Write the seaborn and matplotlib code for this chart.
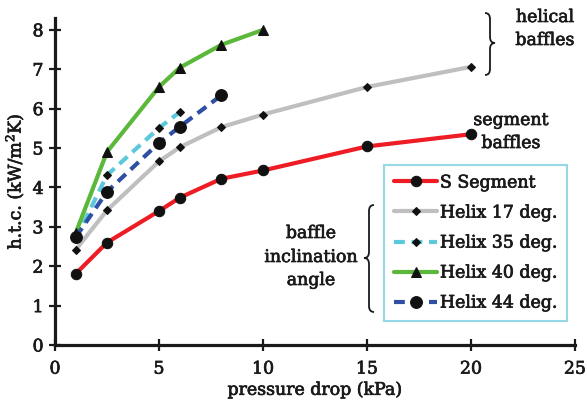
"""Heat transfer coefficient vs pressure drop for segment and helical baffles."""

import matplotlib

matplotlib.use("Agg")
import matplotlib.patheffects as pe
import matplotlib.pyplot as plt
import pandas as pd
import seaborn as sns
from matplotlib.path import Path
from matplotlib.patches import PathPatch

sns.set_style("ticks")
plt.rcParams["font.family"] = ["DejaVu Serif"]
plt.rcParams["mathtext.fontset"] = "dejavuserif"

# data
seg_dp = [1, 2.5, 5, 6, 8, 10, 15, 20]
seg_htc = [1.81, 2.60, 3.40, 3.74, 4.22, 4.43, 5.04, 5.35]

h17_dp = [1, 2.5, 5, 6, 8, 10, 15, 20]
h17_htc = [2.42, 3.42, 4.66, 5.02, 5.53, 5.85, 6.55, 7.06]

h35_dp = [1, 2.5, 5, 6]
h35_htc = [2.70, 4.31, 5.51, 5.91]

h40_dp = [1, 2.5, 5, 6, 8, 10]
h40_htc = [2.85, 4.90, 6.55, 7.04, 7.62, 8.00]

h44_dp = [1, 2.5, 5, 6, 8]
h44_htc = [2.74, 3.89, 5.13, 5.54, 6.34]

W, H = 587, 403
FS = 12.5
INK = "#1a1a1a"
HEAVY = [pe.withStroke(linewidth=0.5, foreground=INK)]

fig = plt.figure(figsize=(W / 100, H / 100), dpi=100)
ax = fig.add_axes([55 / W, 58 / H, 520 / W, 327 / H])

series = [
    ("S Segment", seg_dp, seg_htc, "#ee1c24", "-", "o", 7.5),
    ("Helix 17 deg.", h17_dp, h17_htc, "#bfbfc1", "-", "D", 4.3),
    ("Helix 35 deg.", h35_dp, h35_htc, "#5bc8dc", (0, (2.6, 1.6)), "D", 4.3),
    ("Helix 40 deg.", h40_dp, h40_htc, "#5cb83a", "-", "^", 7),
    ("Helix 44 deg.", h44_dp, h44_htc, "#2e4fa3", (0, (2.6, 1.6)), "o", 8.5),
]

for name, dp, htc, color, ls, marker, ms in series:
    df = pd.DataFrame({"dp": dp, "htc": htc})
    sns.lineplot(
        data=df, x="dp", y="htc", ax=ax, color=color, linewidth=3,
        linestyle=ls, marker=marker, markersize=ms, markerfacecolor="#111111",
        markeredgecolor="#111111", label=name,
    )

ax.set_xlim(0, 25)
ax.set_ylim(0, 8.3)
ax.set_xticks([0, 5, 10, 15, 20, 25])
ax.set_yticks(range(0, 9))
for side in ("top", "right"):
    ax.spines[side].set_visible(False)
for side in ("left", "bottom"):
    ax.spines[side].set_linewidth(2.3)
    ax.spines[side].set_color(INK)
ax.tick_params(direction="inout", length=8.5, width=1.6, color=INK,
               labelsize=FS, labelcolor=INK)
ax.tick_params(axis="x", pad=7)
ax.tick_params(axis="y", pad=4)
ax.set_xlabel("pressure drop (kPa)", fontsize=FS, color=INK, labelpad=3)
ax.set_ylabel("h.t.c. (kW/m$^2$K)", fontsize=FS, color=INK, labelpad=4)
for t in ax.get_xticklabels() + ax.get_yticklabels():
    t.set_path_effects(HEAVY)
ax.xaxis.label.set_path_effects(HEAVY)
ax.yaxis.label.set_path_effects(HEAVY)

leg = ax.legend(
    loc="upper right", bbox_to_anchor=(567 / W, 1 - 165 / H),
    bbox_transform=fig.transFigure, fontsize=FS, frameon=True, fancybox=False,
    handlelength=2.5, handletextpad=0.15, labelspacing=0.75, borderpad=0.55,
    borderaxespad=0,
)
leg.get_frame().set_edgecolor("#7fcfe0")
leg.get_frame().set_linewidth(1.5)
for t in leg.get_texts():
    t.set_color(INK)
    t.set_path_effects(HEAVY)


def px(x, y):
    return x / W, 1 - y / H


def brace(x0, y0, y1, ym, w):
    """Curly brace in pixel coordinates; w > 0 points right, w < 0 points left."""
    q = 6
    xm = x0 + w / 2
    pts = [px(x0, y0), px(xm, y0), px(xm, y0 + q), px(xm, ym - q),
           px(xm, ym), px(x0 + w, ym), px(xm, ym), px(xm, ym + q),
           px(xm, y1 - q), px(xm, y1), px(x0, y1)]
    codes = [Path.MOVETO, Path.CURVE3, Path.CURVE3, Path.LINETO,
             Path.CURVE3, Path.CURVE3, Path.CURVE3, Path.CURVE3,
             Path.LINETO, Path.CURVE3, Path.CURVE3]
    fig.patches.append(PathPatch(Path(pts, codes), transform=fig.transFigure,
                                 fill=False, lw=1.3, color=INK))


def note(cx, baselines, lines):
    for y, s in zip(baselines, lines):
        fig.text(*px(cx, y), s, ha="center", va="baseline", fontsize=FS,
                 color=INK, path_effects=HEAVY)


brace(485, 13, 75, 43, 10)
brace(374, 205, 312, 258, -10)

note(545, [22, 45], ["helical", "baffles"])
note(511, [125, 148], ["segment", "baffles"])
note(311, [238, 262, 285], ["baffle", "inclination", "angle"])

fig.savefig("out.png", dpi=100)
